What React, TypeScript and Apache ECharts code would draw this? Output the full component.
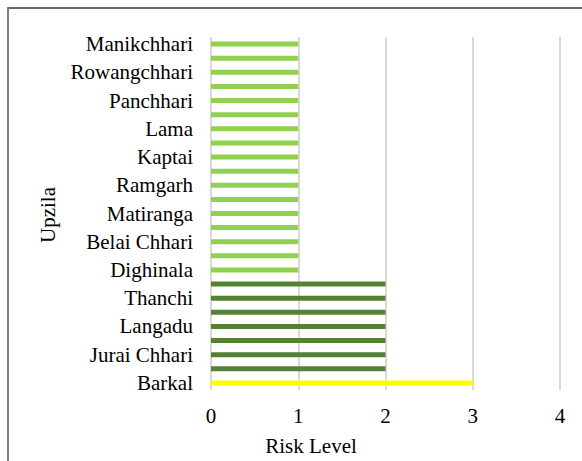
import React, { useEffect, useRef } from "react";
import * as echarts from "echarts";

// Categories from bottom to top
const upazilas = [
  "Barkal",
  "Baghaichhari",
  "Jurai Chhari",
  "Naniarchar",
  "Langadu",
  "Ruma",
  "Thanchi",
  "Ali Kadam",
  "Dighinala",
  "Mahalchhari",
  "Belai Chhari",
  "Lakshmichhari",
  "Matiranga",
  "Guimara",
  "Ramgarh",
  "Khagrachhari Sadar",
  "Kaptai",
  "Kawkhali",
  "Lama",
  "Naikhongchhari",
  "Panchhari",
  "Rajasthali",
  "Rowangchhari",
  "Bandarban Sadar",
  "Manikchhari",
];

const riskLevels = [3, 2, 2, 2, 2, 2, 2, 2, 1, 1, 1, 1, 1, 1, 1, 1, 1, 1, 1, 1, 1, 1, 1, 1, 1];

const xTicks = [0, 1, 2, 3, 4];

const levelColors: Record<number, string> = {
  1: "#92D050",
  2: "#548235",
  3: "#FFFF00",
};

const FONT = "Liberation Serif";
const FS = 21;

export default function App() {
  const ref = useRef<HTMLDivElement>(null);

  useEffect(() => {
    if (!ref.current) return;
    const chart = echarts.init(ref.current, null, { renderer: "svg" });
    chart.setOption({
      animation: false,
      backgroundColor: "#ffffff",
      textStyle: { fontFamily: FONT },
      grid: { left: 211, right: 22, top: 37, bottom: 71, containLabel: false },
      xAxis: {
        type: "value",
        min: xTicks[0],
        max: xTicks[xTicks.length - 1],
        interval: 1,
        axisLine: { show: false },
        axisTick: { show: false },
        axisLabel: {
          margin: 15,
          fontFamily: FONT,
          fontSize: FS,
          color: "#000",
        },
        splitLine: { show: true, lineStyle: { color: "#d9d9d9", width: 2 } },
      },
      yAxis: {
        type: "category",
        data: upazilas,
        axisLine: { show: false },
        axisTick: { show: false },
        axisLabel: {
          interval: 1,
          margin: 18,
          fontFamily: FONT,
          fontSize: FS,
          color: "#000",
        },
      },
      series: [
        {
          type: "bar",
          barWidth: 5,
          data: riskLevels.map((v) => ({
            value: v,
            itemStyle: { color: levelColors[v] },
          })),
        },
      ],
      graphic: [
        {
          type: "line",
          shape: { x1: 7, y1: 8, x2: 582, y2: 8 },
          style: { stroke: "#333", lineWidth: 1.5 },
        },
        {
          type: "line",
          shape: { x1: 8, y1: 7, x2: 8, y2: 461 },
          style: { stroke: "#808080", lineWidth: 2 },
        },
        {
          type: "text",
          x: 311,
          y: 446,
          style: {
            text: "Risk Level",
            fontFamily: FONT,
            fontSize: FS,
            fill: "#000",
            align: "center",
            verticalAlign: "middle",
          },
        },
        {
          type: "text",
          x: 48,
          y: 215,
          rotation: Math.PI / 2,
          style: {
            text: "Upzila",
            fontFamily: FONT,
            fontSize: FS,
            fill: "#000",
            align: "center",
            verticalAlign: "middle",
          },
        },
      ],
    });
    return () => chart.dispose();
  }, []);

  return (
    <div
      ref={ref}
      style={{ position: "absolute", left: 0, top: 0, width: 582, height: 461 }}
    />
  );
}
